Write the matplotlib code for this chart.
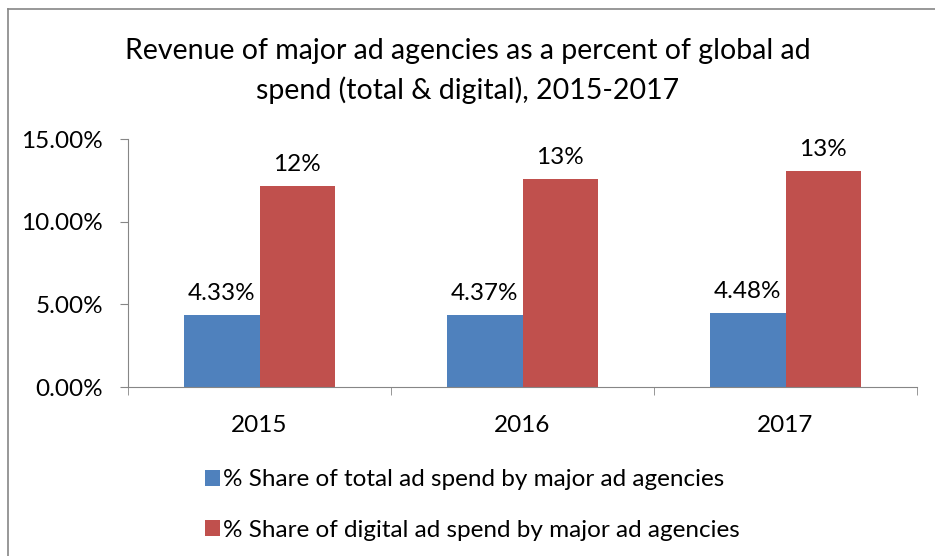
import matplotlib.pyplot as plt
import numpy as np
from matplotlib.lines import Line2D
from matplotlib.ticker import FuncFormatter

plt.rcParams['font.family'] = ['Lato', 'DejaVu Sans']

years = ['2015', '2016', '2017']
total_share = [4.33, 4.37, 4.48]      # % share of total ad spend
digital_share = [12.14, 12.6, 13.06]  # % share of digital ad spend
series_names = ['% Share of total ad spend by major ad agencies',
                '% Share of digital ad spend by major ad agencies']

blue = '#4F81BD'
red = '#C0504D'
grey = '#868686'
fs = 17.5

fig = plt.figure(figsize=(9.35, 5.56), dpi=100)
ax = fig.add_axes([128/935, 1 - 387/556, (917-128)/935, (387-139)/556])

x = np.arange(1, len(years) + 1)
w = 0.287
b1 = ax.bar(x - w/2, total_share, w, color=blue, label=series_names[0])
b2 = ax.bar(x + w/2, digital_share, w, color=red, label=series_names[1])

for rect, v in zip(b1, total_share):
    ax.annotate(f'{v:.2f}%', (rect.get_x() + rect.get_width()/2, v),
                xytext=(0, 8), textcoords='offset points',
                ha='center', va='bottom', fontsize=fs)
for rect, v in zip(b2, digital_share):
    ax.annotate(f'{v:.0f}%', (rect.get_x() + rect.get_width()/2, v),
                xytext=(0, 8), textcoords='offset points',
                ha='center', va='bottom', fontsize=fs)

ax.set_xlim(0.5, len(years) + 0.5)
ax.set_ylim(0, 15)
ax.set_yticks([0, 5, 10, 15])
ax.yaxis.set_major_formatter(FuncFormatter(lambda v, p: f'{v:.2f}%'))
ax.set_xticks(x)
ax.set_xticklabels(years)
ax.set_xticks(np.arange(0.5, len(years) + 1), minor=True)

for s in ['top', 'right']:
    ax.spines[s].set_visible(False)
for s in ['left', 'bottom']:
    ax.spines[s].set_color(grey)
ax.tick_params(axis='y', length=6, color=grey, labelsize=fs, pad=12)
ax.tick_params(axis='x', which='major', length=0, labelsize=fs, pad=20)
ax.tick_params(axis='x', which='minor', length=6, color=grey, direction='out')

fig.text(468/935, 1 - 71/556,
         'Revenue of major ad agencies as a percent of global ad\nspend (total & digital), 2015-2017',
         ha='center', va='center', fontsize=20.5, linespacing=1.55)

fig.legend(loc='center left', bbox_to_anchor=(205/935, 1 - 505/556),
           frameon=False, fontsize=fs, handlelength=0.6, handleheight=0.6,
           handletextpad=0.15, labelspacing=1.2, borderpad=0,
           borderaxespad=0)

# chart border (left and top visible, rest clipped by image)
fig.add_artist(Line2D([8/935, 8/935], [0, 1 - 9/556], color=grey, lw=1.2))
fig.add_artist(Line2D([8/935, 1], [1 - 9/556, 1 - 9/556], color=grey, lw=1.2))

fig.savefig('out.png', dpi=100)
